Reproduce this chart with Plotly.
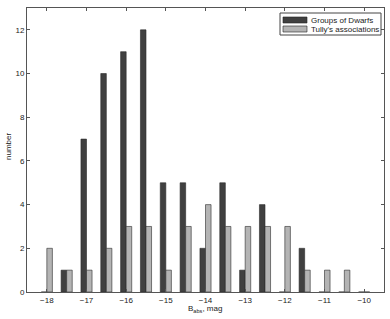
import plotly.graph_objects as go

bins = [-18, -17.5, -17, -16.5, -16, -15.5, -15, -14.5, -14, -13.5, -13, -12.5, -12, -11.5, -11, -10.5, -10]
dwarfs = [0, 1, 7, 10, 11, 12, 5, 5, 2, 5, 1, 4, 0, 2, 0, 0, 0]
tully = [2, 1, 1, 2, 3, 3, 1, 3, 4, 3, 3, 3, 3, 1, 1, 1, 0]
xticks = [-18, -17, -16, -15, -14, -13, -12, -11, -10]
yticks = [0, 2, 4, 6, 8, 10, 12]
series_names = ["Groups of Dwarfs", "Tully's associations"]
colors = ["#404040", "#b4b4b4"]

W, H = 390, 319
L, R, T, B = 27, 6, 8, 27
PW, PH = W - L - R, H - T - B

def px(x):
    return (x - L) / PW

def py(y):
    return (H - B - y) / PH

FONT = "Liberation Sans, Arial"

fig = go.Figure()
for name, vals, c in zip(series_names, [dwarfs, tully], colors):
    fig.add_trace(go.Bar(x=bins, y=vals, name=name,
                         marker=dict(color=c, line=dict(color="#2a2a2a", width=0.6))))

axis_common = dict(showgrid=False, zeroline=False, showline=True, linecolor="#555555",
                   linewidth=1, mirror="ticks", ticks="inside", ticklen=3, automargin=False,
                   tickcolor="#555555", tickfont=dict(family=FONT, size=8, color="#222"))
fig.update_xaxes(range=[-18.5, -9.5], tickvals=xticks, **axis_common)
fig.update_yaxes(range=[0, 13], tickvals=yticks, **axis_common)

shapes = [
    dict(type="rect", xref="paper", yref="paper", x0=px(280), x1=px(381), y0=py(35), y1=py(13),
         line=dict(color="#444", width=1), fillcolor="white", layer="above"),
    dict(type="rect", xref="paper", yref="paper", x0=px(283), x1=px(307), y0=py(23), y1=py(17),
         line=dict(color="#222", width=0.6), fillcolor=colors[0], layer="above"),
    dict(type="rect", xref="paper", yref="paper", x0=px(283), x1=px(307), y0=py(32), y1=py(26),
         line=dict(color="#222", width=0.6), fillcolor=colors[1], layer="above"),
]
annotations = [
    dict(text=series_names[0], xref="paper", yref="paper", x=px(309), y=py(20), xanchor="left",
         yanchor="middle", showarrow=False, font=dict(family=FONT, size=8, color="#222")),
    dict(text=series_names[1], xref="paper", yref="paper", x=px(309), y=py(29), xanchor="left",
         yanchor="middle", showarrow=False, font=dict(family=FONT, size=8, color="#222")),
    dict(text="B<sub>abs</sub>, mag", xref="paper", yref="paper", x=px(205), y=py(309),
         xanchor="center", yanchor="middle", showarrow=False, font=dict(family=FONT, size=8, color="#222")),
    dict(text="number", xref="paper", yref="paper", x=px(8), y=py(147), textangle=-90,
         xanchor="center", yanchor="middle", showarrow=False, font=dict(family=FONT, size=8, color="#222")),
]

fig.update_layout(
    width=W, height=H,
    margin=dict(l=L, r=R, t=T, b=B),
    barmode="group", bargap=0.44, bargroupgap=0,
    plot_bgcolor="white", paper_bgcolor="white",
    showlegend=False, shapes=shapes, annotations=annotations,
)
fig.write_html("out.html", config={"displayModeBar": False, "staticPlot": True},
               post_script="document.body.style.margin='0';document.body.style.overflow='hidden';")
